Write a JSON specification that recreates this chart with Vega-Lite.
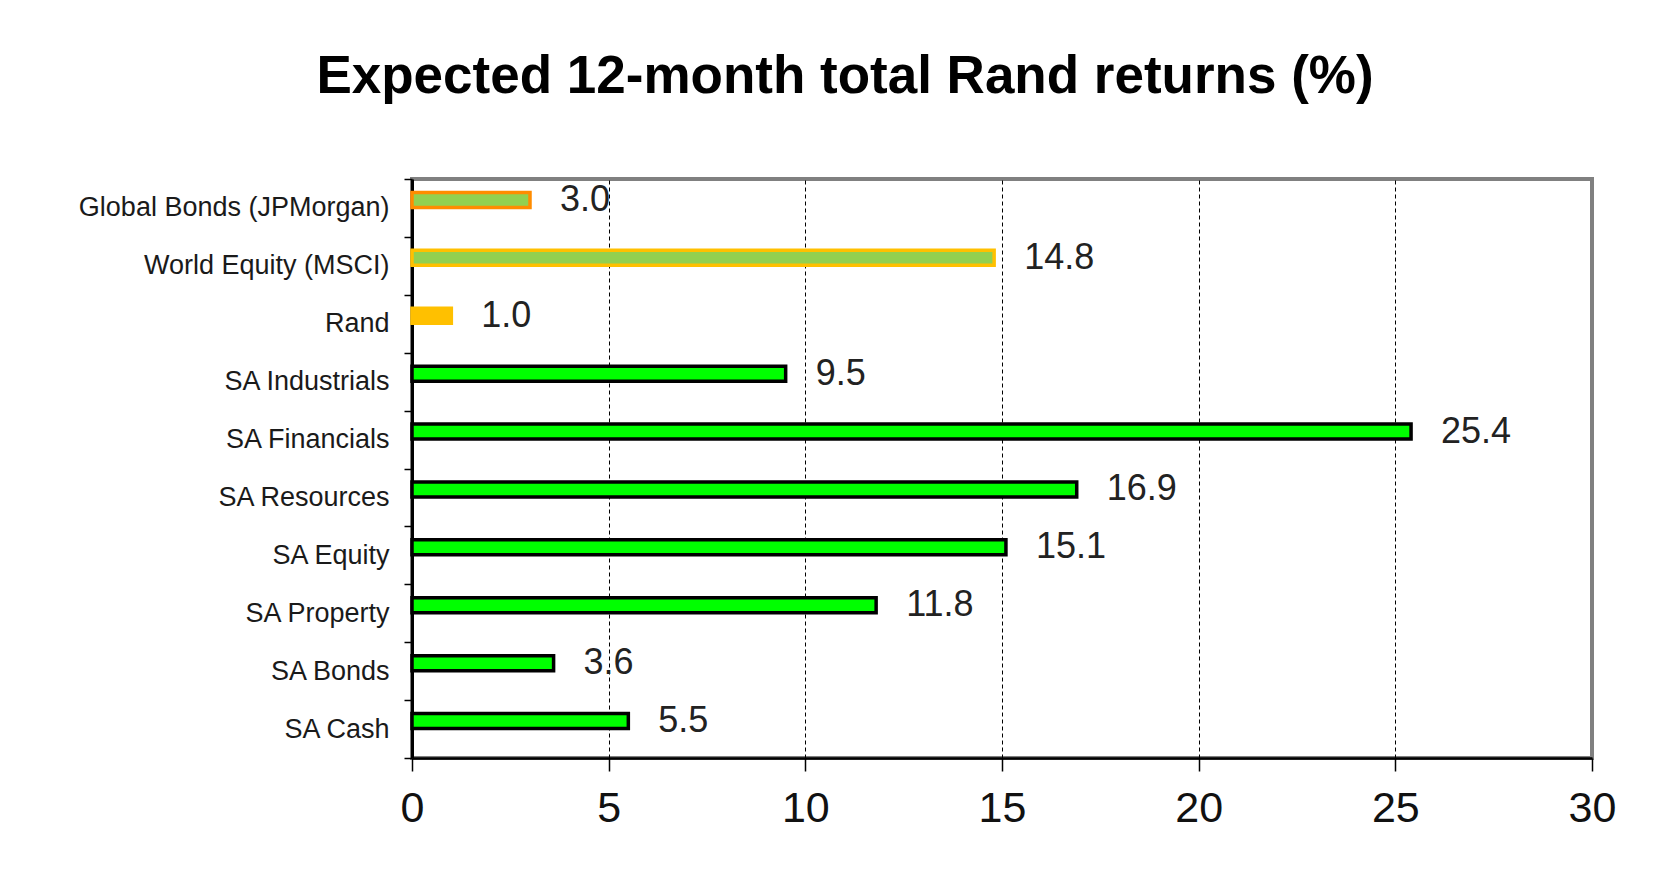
{
  "$schema": "https://vega.github.io/schema/vega-lite/v6.json",
  "autosize": "none",
  "width": 1180,
  "height": 579,
  "padding": {"left": 412, "top": 179, "right": 77, "bottom": 137},
  "background": "white",
  "title": {
    "text": "Expected 12-month total Rand returns (%)",
    "font": "Liberation Sans",
    "fontSize": 53,
    "fontWeight": "bold",
    "color": "black",
    "anchor": "middle",
    "baseline": "alphabetic",
    "dx": -157,
    "offset": 19
  },
  "data": {
    "values": [
      {"asset": "Global Bonds (JPMorgan)", "kind": "Global bonds", "value": 3.0},
      {"asset": "World Equity (MSCI)", "kind": "World equity", "value": 14.8},
      {"asset": "Rand", "kind": "Currency", "value": 1.0},
      {"asset": "SA Industrials", "kind": "SA asset", "value": 9.5},
      {"asset": "SA Financials", "kind": "SA asset", "value": 25.4},
      {"asset": "SA Resources", "kind": "SA asset", "value": 16.9},
      {"asset": "SA Equity", "kind": "SA asset", "value": 15.1},
      {"asset": "SA Property", "kind": "SA asset", "value": 11.8},
      {"asset": "SA Bonds", "kind": "SA asset", "value": 3.6},
      {"asset": "SA Cash", "kind": "SA asset", "value": 5.5}
    ]
  },
  "encoding": {
    "y": {
      "field": "asset",
      "type": "nominal",
      "sort": null,
      "title": null,
      "scale": {"paddingInner": 0, "paddingOuter": 0},
      "axis": {
        "tickBand": "extent",
        "labelFont": "Liberation Sans",
        "labelFontSize": 27,
        "labelLimit": 0,
        "labelColor": "#1a1a1a",
        "labelPadding": 15,
        "tickSize": 8,
        "tickColor": "black",
        "tickWidth": 1.5,
        "domainColor": "black",
        "domainWidth": 3,
        "grid": false
      }
    },
    "x": {
      "field": "value",
      "type": "quantitative",
      "title": null,
      "scale": {"domain": [0, 30], "nice": false, "zero": true},
      "axis": {
        "values": [0, 5, 10, 15, 20, 25, 30],
        "labelFont": "Liberation Sans",
        "labelFontSize": 43,
        "labelFlush": false,
        "labelColor": "#111",
        "labelPadding": 16,
        "tickSize": 13,
        "tickColor": "black",
        "tickWidth": 1.5,
        "domainColor": "black",
        "domainWidth": 2.5,
        "grid": true,
        "gridColor": "black",
        "gridWidth": 1,
        "gridDash": [4, 3],
        "gridOpacity": {"condition": {"test": "datum.value == 30 || datum.value == 0", "value": 0}, "value": 1}
      }
    }
  },
  "layer": [
    {
      "mark": {"type": "bar", "size": 15, "yOffset": -8, "strokeWidth": 3.5},
      "encoding": {
        "fill": {
          "field": "kind",
          "type": "nominal",
          "legend": null,
          "scale": {"domain": ["Global bonds", "World equity", "Currency", "SA asset"], "range": ["#92D050", "#92D050", "#FFC000", "#00FF00"]}
        },
        "stroke": {
          "field": "kind",
          "type": "nominal",
          "legend": null,
          "scale": {"domain": ["Global bonds", "World equity", "Currency", "SA asset"], "range": ["#FF8C00", "#FFC000", "#FFC000", "#000000"]}
        }
      }
    },
    {
      "mark": {"type": "text", "align": "left", "baseline": "middle", "dx": 30, "yOffset": -8, "font": "Liberation Sans", "fontSize": 36, "color": "#222"},
      "encoding": {
        "text": {"field": "value", "type": "quantitative", "format": ".1f"}
      }
    }
  ],
  "config": {
    "view": {"stroke": "#808080", "strokeWidth": 4}
  }
}
